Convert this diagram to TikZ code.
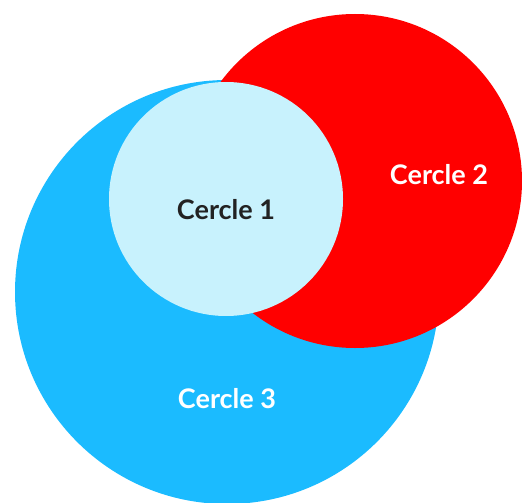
\documentclass[tikz,border=0pt]{standalone}
\usepackage{fontspec}
\setmainfont{Lato}
\definecolor{cred}{HTML}{FF0000}
\definecolor{cblue}{HTML}{1BBBFF}
\definecolor{clight}{HTML}{C8F2FD}
\definecolor{cdark}{HTML}{222222}
\begin{document}
\begin{tikzpicture}[x=1pt,y=-1pt,
  circ/.style={circle,draw=none,inner sep=0pt},
  lbl/.style={font=\fontsize{27}{30}\selectfont\bfseries}]
\useasboundingbox (0,0) rectangle (522,503);
\clip (0,0) rectangle (522,503);
\node[circ,fill=cblue,minimum size=424pt] (c3) at (227,292) {};
\node[circ,fill=cred,minimum size=334pt] (c2) at (355,181) {};
\node[circ,fill=clight,minimum size=234pt] (c1) at (226,199) {};
\node[lbl,text=cdark] (t1) at (226,210) {Cercle 1};
\node[lbl,text=white] (t2) at (439,175) {Cercle 2};
\node[lbl,text=white] (t3) at (227,399) {Cercle 3};
\end{tikzpicture}
\end{document}
